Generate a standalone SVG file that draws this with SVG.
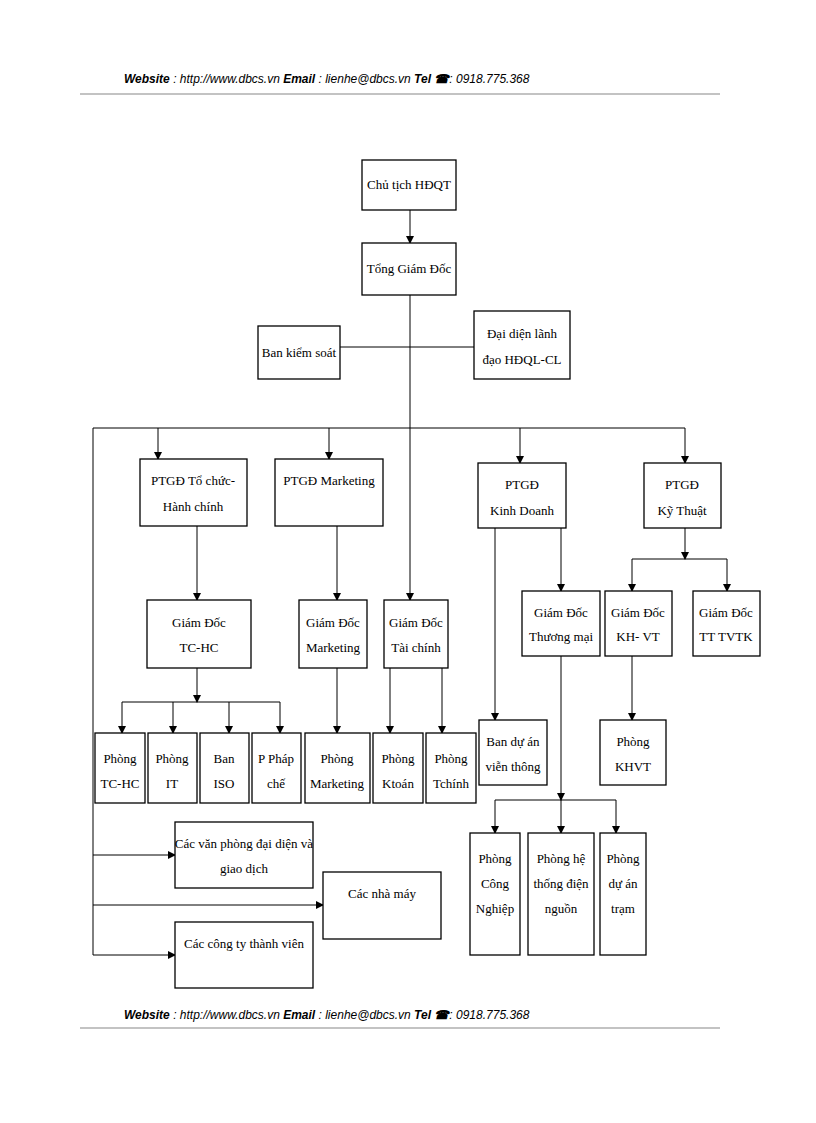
<svg xmlns="http://www.w3.org/2000/svg" width="816" height="1123" viewBox="0 0 816 1123">
<style>
.b{fill:#fff;stroke:#000;stroke-width:1.3}
.t{font-family:"Liberation Serif",serif;font-size:13px;text-anchor:middle;fill:#000}
.c{stroke:#000;stroke-width:1;fill:none}
.h{font-family:"Liberation Sans",sans-serif;font-size:12px;font-style:italic;fill:#000}
.hb{font-weight:bold}
.r{stroke:#888;stroke-width:1.2}
</style>
<defs><marker id="a" markerWidth="8" markerHeight="8" refX="7" refY="4" orient="auto" markerUnits="userSpaceOnUse"><path d="M0,0 L8,4 L0,8 Z" fill="#000"/></marker></defs>
<g id="header"><text class="h" x="124" y="83"><tspan class="hb">Website</tspan> : http://www.dbcs.vn <tspan class="hb">Email</tspan>  : lienhe@dbcs.vn  <tspan class="hb">Tel ☎</tspan>: 0918.775.368</text><line class="r" x1="80" y1="94" x2="720" y2="94"/></g>
<g id="footer"><text class="h" x="124" y="1019"><tspan class="hb">Website</tspan> : http://www.dbcs.vn <tspan class="hb">Email</tspan>  : lienhe@dbcs.vn  <tspan class="hb">Tel ☎</tspan>: 0918.775.368</text><line class="r" x1="80" y1="1028" x2="720" y2="1028"/></g>
<g id="connectors">
<path class="c" d="M410,210 V243" marker-end="url(#a)"/>
<path class="c" d="M340,347 H474"/>
<path class="c" d="M410,295 V600" marker-end="url(#a)"/>
<path class="c" d="M93,428 H685 M93,428 V955"/>
<path class="c" d="M158,428 V459" marker-end="url(#a)"/>
<path class="c" d="M329,428 V459" marker-end="url(#a)"/>
<path class="c" d="M520,428 V463" marker-end="url(#a)"/>
<path class="c" d="M685,428 V463" marker-end="url(#a)"/>
<path class="c" d="M197,526 V600" marker-end="url(#a)"/>
<path class="c" d="M337,526 V600" marker-end="url(#a)"/>
<path class="c" d="M561,528 V591" marker-end="url(#a)"/>
<path class="c" d="M495,528 V720" marker-end="url(#a)"/>
<path class="c" d="M685,528 V559" marker-end="url(#a)"/>
<path class="c" d="M632,559 H727"/>
<path class="c" d="M632,559 V591" marker-end="url(#a)"/>
<path class="c" d="M727,559 V591" marker-end="url(#a)"/>
<path class="c" d="M632,656 V720" marker-end="url(#a)"/>
<path class="c" d="M197,668 V702" marker-end="url(#a)"/>
<path class="c" d="M122,702 H280"/>
<path class="c" d="M122,702 V733" marker-end="url(#a)"/>
<path class="c" d="M173,702 V733" marker-end="url(#a)"/>
<path class="c" d="M229,702 V733" marker-end="url(#a)"/>
<path class="c" d="M280,702 V733" marker-end="url(#a)"/>
<path class="c" d="M337,668 V733" marker-end="url(#a)"/>
<path class="c" d="M390,668 V733" marker-end="url(#a)"/>
<path class="c" d="M442,668 V733" marker-end="url(#a)"/>
<path class="c" d="M561,656 V800" marker-end="url(#a)"/>
<path class="c" d="M495,800 H616"/>
<path class="c" d="M495,800 V833" marker-end="url(#a)"/>
<path class="c" d="M561,800 V833" marker-end="url(#a)"/>
<path class="c" d="M616,800 V833" marker-end="url(#a)"/>
<path class="c" d="M93,855 H175" marker-end="url(#a)"/>
<path class="c" d="M93,905 H323" marker-end="url(#a)"/>
<path class="c" d="M93,955 H175" marker-end="url(#a)"/>
</g>
<g id="chutich"><rect class="b" x="362" y="160" width="94" height="50"/><text class="t" x="409" y="189">Chủ tịch HĐQT</text></g>
<g id="tgd"><rect class="b" x="362" y="243" width="94" height="52"/><text class="t" x="409" y="273">Tổng Giám Đốc</text></g>
<g id="bks"><rect class="b" x="258" y="326" width="82" height="53"/><text class="t" x="299" y="357">Ban kiểm soát</text></g>
<g id="daidien"><rect class="b" x="474" y="311" width="96" height="68"/><text class="t" x="522" y="338">Đại diện lãnh</text><text class="t" x="522" y="364">đạo HĐQL-CL</text></g>
<g id="ptgd-tc"><rect class="b" x="140" y="459" width="107" height="67"/><text class="t" x="193" y="485">PTGĐ Tổ chức-</text><text class="t" x="193" y="511">Hành chính</text></g>
<g id="ptgd-mk"><rect class="b" x="275" y="459" width="108" height="67"/><text class="t" x="329" y="485">PTGĐ Marketing</text></g>
<g id="ptgd-kd"><rect class="b" x="478" y="463" width="88" height="65"/><text class="t" x="522" y="489">PTGĐ</text><text class="t" x="522" y="515">Kinh Doanh</text></g>
<g id="ptgd-kt"><rect class="b" x="644" y="463" width="77" height="65"/><text class="t" x="682" y="489">PTGĐ</text><text class="t" x="682" y="515">Kỹ Thuật</text></g>
<g id="gd-tchc"><rect class="b" x="147" y="600" width="104" height="68"/><text class="t" x="199" y="627">Giám Đốc</text><text class="t" x="199" y="652">TC-HC</text></g>
<g id="gd-mk"><rect class="b" x="299" y="600" width="68" height="68"/><text class="t" x="333" y="627">Giám Đốc</text><text class="t" x="333" y="652">Marketing</text></g>
<g id="gd-tc"><rect class="b" x="384" y="600" width="64" height="68"/><text class="t" x="416" y="627">Giám Đốc</text><text class="t" x="416" y="652">Tài chính</text></g>
<g id="gd-tm"><rect class="b" x="522" y="591" width="78" height="65"/><text class="t" x="561" y="617">Giám Đốc</text><text class="t" x="561" y="641">Thương mại</text></g>
<g id="gd-khvt"><rect class="b" x="605" y="591" width="67" height="65"/><text class="t" x="638" y="617">Giám Đốc</text><text class="t" x="638" y="641">KH- VT</text></g>
<g id="gd-tvtk"><rect class="b" x="693" y="591" width="67" height="65"/><text class="t" x="726" y="617">Giám Đốc</text><text class="t" x="726" y="641">TT TVTK</text></g>
<g id="p-tchc"><rect class="b" x="95" y="733" width="50" height="70"/><text class="t" x="120" y="763">Phòng</text><text class="t" x="120" y="788">TC-HC</text></g>
<g id="p-it"><rect class="b" x="148" y="733" width="49" height="70"/><text class="t" x="172" y="763">Phòng</text><text class="t" x="172" y="788">IT</text></g>
<g id="ban-iso"><rect class="b" x="200" y="733" width="49" height="70"/><text class="t" x="224" y="763">Ban</text><text class="t" x="224" y="788">ISO</text></g>
<g id="p-phapche"><rect class="b" x="252" y="733" width="49" height="70"/><text class="t" x="276" y="763">P Pháp</text><text class="t" x="276" y="788">chế</text></g>
<g id="p-mk"><rect class="b" x="305" y="733" width="65" height="70"/><text class="t" x="337" y="763">Phòng</text><text class="t" x="337" y="788">Marketing</text></g>
<g id="p-ktoan"><rect class="b" x="373" y="733" width="50" height="70"/><text class="t" x="398" y="763">Phòng</text><text class="t" x="398" y="788">Ktoán</text></g>
<g id="p-tchinh"><rect class="b" x="426" y="733" width="50" height="70"/><text class="t" x="451" y="763">Phòng</text><text class="t" x="451" y="788">Tchính</text></g>
<g id="ban-vt"><rect class="b" x="479" y="720" width="68" height="65"/><text class="t" x="513" y="746">Ban dự án</text><text class="t" x="513" y="771">viễn thông</text></g>
<g id="p-khvt"><rect class="b" x="600" y="720" width="66" height="65"/><text class="t" x="633" y="746">Phòng</text><text class="t" x="633" y="771">KHVT</text></g>
<g id="p-cn"><rect class="b" x="470" y="833" width="50" height="122"/><text class="t" x="495" y="863">Phòng</text><text class="t" x="495" y="888">Công</text><text class="t" x="495" y="913">Nghiệp</text></g>
<g id="p-htdn"><rect class="b" x="528" y="833" width="66" height="122"/><text class="t" x="561" y="863">Phòng hệ</text><text class="t" x="561" y="888">thống điện</text><text class="t" x="561" y="913">nguồn</text></g>
<g id="p-tram"><rect class="b" x="600" y="833" width="46" height="122"/><text class="t" x="623" y="863">Phòng</text><text class="t" x="623" y="888">dự án</text><text class="t" x="623" y="913">trạm</text></g>
<g id="vpdd"><rect class="b" x="175" y="822" width="138" height="66"/><text class="t" x="244" y="848">Các văn phòng đại diện và</text><text class="t" x="244" y="873">giao dịch</text></g>
<g id="nhamay"><rect class="b" x="323" y="872" width="118" height="67"/><text class="t" x="382" y="898">Các nhà máy</text></g>
<g id="cty"><rect class="b" x="175" y="922" width="138" height="66"/><text class="t" x="244" y="948">Các công ty thành viên</text></g>
</svg>
